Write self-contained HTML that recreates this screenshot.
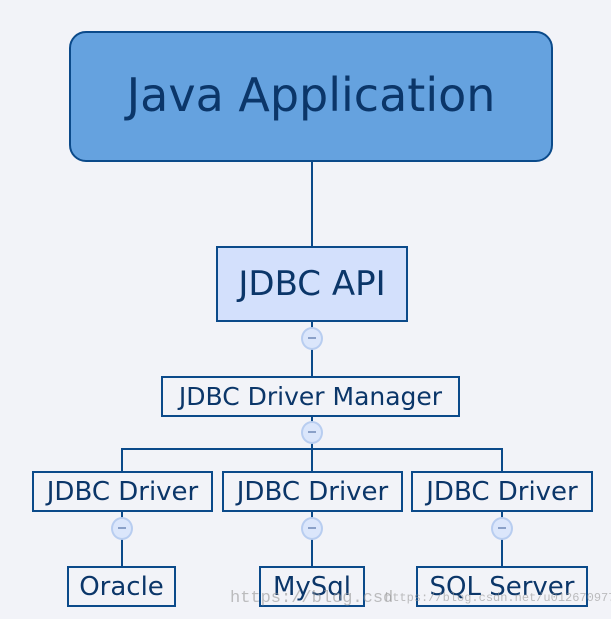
<!DOCTYPE html>
<html><head><meta charset="utf-8"><style>
html,body{margin:0;padding:0;}
body{width:611px;height:619px;background:#f2f3f8;position:relative;overflow:hidden;font-family:"DejaVu Sans","Liberation Sans",sans-serif;color:#0b3669;}
.b{position:absolute;box-sizing:border-box;border:2px solid #0b4a8a;display:flex;align-items:center;justify-content:center;white-space:nowrap;background:#f2f3f8;}
.l{position:absolute;background:#0b4a8a;}
.c{position:absolute;width:22px;height:23px;box-sizing:border-box;border:2px solid #b8cdf0;border-radius:50%;background:#dbe6fb;}
.c:after{content:"";position:absolute;left:5px;top:8px;width:8px;height:2px;background:#8aa0c8;}
.w{position:absolute;font-family:"Liberation Mono",monospace;color:rgba(150,150,150,0.6);font-size:17px;white-space:nowrap;}
</style></head><body>
<div class="l" style="left:311px;top:161px;width:2px;height:86px"></div>
<div class="l" style="left:311px;top:321px;width:2px;height:56px"></div>
<div class="l" style="left:311px;top:417px;width:2px;height:55px"></div>
<div class="l" style="left:121px;top:448px;width:382px;height:2px"></div>
<div class="l" style="left:121px;top:448px;width:2px;height:24px"></div>
<div class="l" style="left:501px;top:448px;width:2px;height:24px"></div>
<div class="l" style="left:121px;top:512px;width:2px;height:55px"></div>
<div class="l" style="left:311px;top:512px;width:2px;height:55px"></div>
<div class="l" style="left:501px;top:512px;width:2px;height:55px"></div>

<div class="b" style="left:69px;top:31px;width:484px;height:131px;border-radius:17px;background:#65a2df;font-size:46px;padding-bottom:4px">Java Application</div>
<div class="b" style="left:216px;top:246px;width:192px;height:76px;background:#d3e0fc;font-size:34px">JDBC API</div>
<div class="b" style="left:161px;top:376px;width:299px;height:41px;font-size:25px">JDBC Driver Manager</div>
<div class="b" style="left:32px;top:471px;width:181px;height:41px;font-size:26px">JDBC Driver</div>
<div class="b" style="left:222px;top:471px;width:181px;height:41px;font-size:26px">JDBC Driver</div>
<div class="b" style="left:411px;top:471px;width:182px;height:41px;font-size:26px">JDBC Driver</div>
<div class="b" style="left:67px;top:566px;width:109px;height:41px;font-size:26px">Oracle</div>
<div class="b" style="left:259px;top:566px;width:106px;height:41px;font-size:26px">MySql</div>
<div class="b" style="left:416px;top:566px;width:172px;height:41px;font-size:26px">SQL Server</div>

<div class="c" style="left:301px;top:327px"></div>
<div class="c" style="left:301px;top:421px"></div>
<div class="c" style="left:111px;top:517px"></div>
<div class="c" style="left:301px;top:517px"></div>
<div class="c" style="left:491px;top:517px"></div>

<div class="w" style="left:230px;top:589px">https://blog.csd</div>
<div class="w" style="left:385px;top:591px;font-size:12px">https://blog.csdn.net/u012670977</div>
</body></html>
